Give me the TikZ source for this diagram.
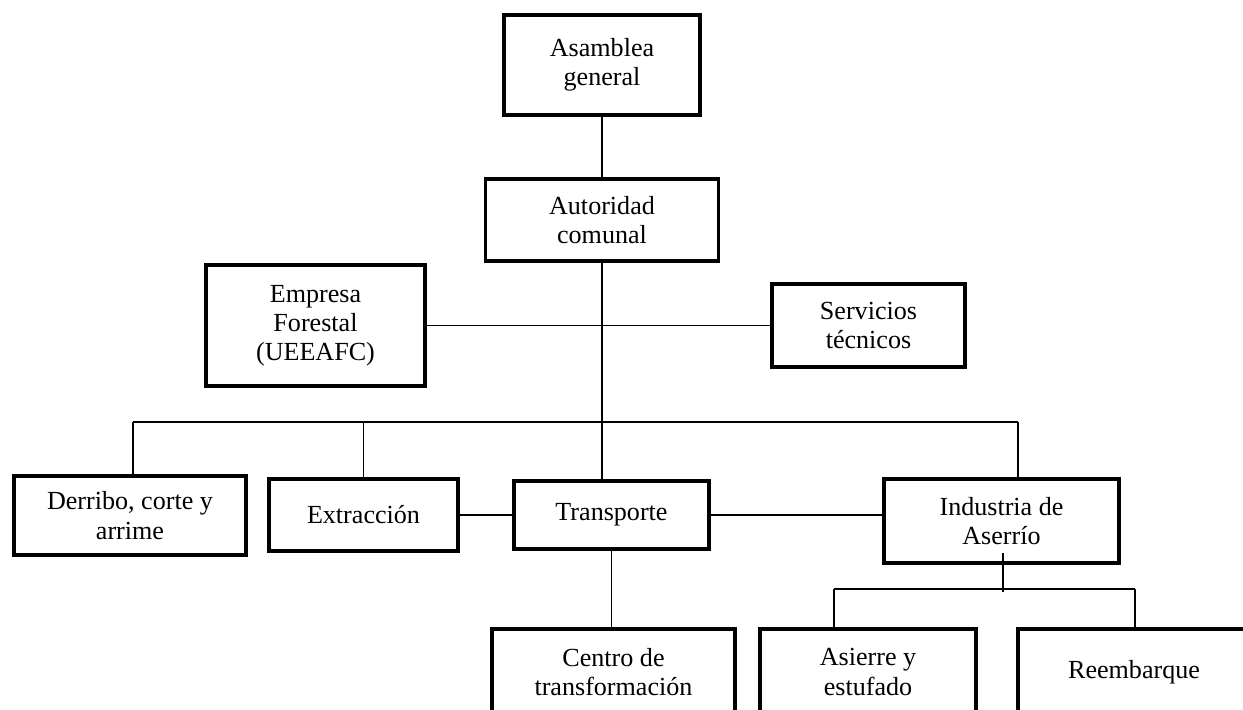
\documentclass[tikz,border=0pt]{standalone}
\usepackage{fontspec}
\setmainfont{Liberation Serif}
\usetikzlibrary{positioning}

\begin{document}
\begin{tikzpicture}[
    x=0.46pt, y=-0.46pt,
    box/.style={draw, line width=1.8pt, fill=white, inner sep=2pt, align=center, font=\fontsize{12}{13.4}\selectfont},
    link/.style={line width=0.7pt}
]
    \useasboundingbox (0,0) rectangle (1243,709);
    \clip (0,0) rectangle (1243,709);
    \fill[white] (0,0) rectangle (1243,709);

    % Top of the chart
    \node[box, minimum width=90.2pt, minimum height=46pt] (asamblea) at (602,65) {Asamblea\\general};
    \node[box, minimum width=107.2pt, minimum height=37.8pt] (autoridad) at (602,220) {Autoridad\\comunal};
    \node[box, minimum width=100.8pt, minimum height=55.7pt] (empresa) at (315.5,325.5) {Empresa\\Forestal\\(UEEAFC)};
    \node[box, minimum width=88.8pt, minimum height=38.2pt] (servicios) at (868.5,325.5) {Servicios\\técnicos};

    % Operations
    \node[box, minimum width=106.8pt, minimum height=36.4pt] (derribo) at (130,515.5) {Derribo, corte y\\arrime};
    \node[box, minimum width=87pt, minimum height=33.2pt] (extraccion) at (363.5,515) {Extracción};
    \node[box, minimum width=89.7pt, minimum height=30.9pt] (transporte) at (611.5,515) {Transporte};
    \node[box, minimum width=108.2pt, minimum height=38.7pt] (industria) at (1001.5,521) {Industria de\\Aserrío};

    % Bottom row (cut by the page edge)
    \node[box, minimum width=111.8pt, minimum height=39.6pt] (centro) at (613.5,672) {Centro de\\transformación};
    \node[box, minimum width=99.4pt, minimum height=39.6pt] (asierre) at (868,672) {Asierre y\\estufado};
    \node[box, minimum width=106.8pt, minimum height=39.6pt] (reembarque) at (1134,672) {Reembarque};

    \coordinate (busL) at (133,422);
    \coordinate (busR) at (1018,422);
    \coordinate (indDrop) at (1003,553);
    \coordinate (subL) at (834,589);
    \coordinate (subR) at (1135,589);

    \begin{scope}[on background layer/.try]
    \draw[link] (asamblea) -- (autoridad);
    \draw[link] (empresa) -- (servicios);
    \draw[link] (autoridad.south) -- (autoridad.south |- transporte.north);
    \draw[link] (busL) -- (busR);
    \draw[link] (busL) -- (busL |- derribo.north);
    \draw[link] (extraccion.north) -- (extraccion.north |- busL);
    \draw[link] (busR) -- (busR |- industria.north);
    \draw[link] (extraccion) -- (transporte);
    \draw[link] (transporte.east) -- (transporte.east -| industria.west);
    \draw[link] (transporte.south) -- (transporte.south |- centro.north);
    \end{scope}

    % Sawmill branch
    \draw[link] (indDrop) -- ++(0,39);
    \draw[link] (subL) -- (subR);
    \draw[link] (subL) -- (subL |- asierre.north);
    \draw[link] (subR) -- (subR |- reembarque.north);
\end{tikzpicture}
\end{document}
